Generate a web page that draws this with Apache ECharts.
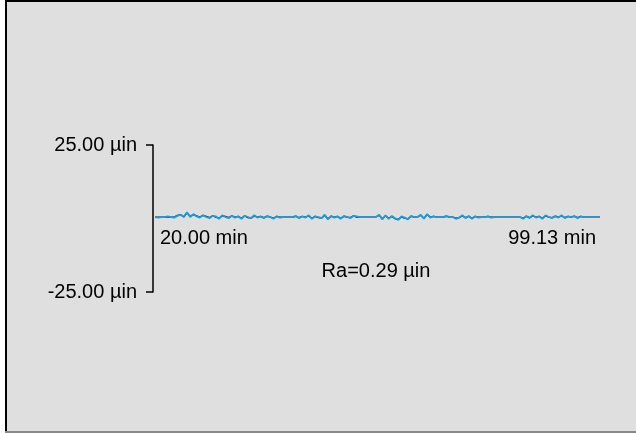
<!DOCTYPE html>
<html><head><meta charset="utf-8">
<script src="https://cdn.jsdelivr.net/npm/echarts@6/dist/echarts.min.js"></script>
<style>html,body{margin:0;padding:0;background:#fff}#c{width:636px;height:433px}</style>
</head><body><div id="c"></div>
<script>
const yTicks = [-25, 25];
const yUnit = 'µin';
const xStartLabel = '20.00 min';
const xEndLabel = '99.13 min';
const raLabel = 'Ra=0.29 µin';
const profileBlue = [0.5,0.3,0.5,0.5,0.7,0.5,0.3,0.9,1.3,0.7,2.1,0.5,1.5,0.7,0.3,1.1,0.5,0.1,0.9,0.7,-0.1,1.1,0.5,0.1,0.9,0.3,0.7,-0.1,0.9,0.5,0.1,1.1,0.3,0.7,0.1,0.9,0.5,-0.1,0.7,0.3,0.5,0.5,0.5,0.5,0.9,0.1,0.7,0.3,1.1,-0.1,0.7,0.5,0.1,1.3,-0.3,0.9,0.3,0.7,-0.1,0.9,0.5,0.1,0.9,0.7,0.5,0.5,0.5,0.5,0.5,0.5,1.3,-0.3,1.1,-0.1,0.9,0.1,-0.5,0.7,0.3,-0.3,0.9,0.5,0.5,1.3,-0.1,1.5,0.3,0.7,0.5,0.5,0.5,0.9,0.5,0.5,-0.1,0.3,1.1,0.1,0.9,-0.1,0.7,0.3,0.5,0.5,0.7,0.3,0.5,0.5,0.5,0.5,0.5,0.5,0.5,0.5,0.5,-0.1,0.9,0.1,1.1,0.3,0.7,-0.1,1.1,0.5,0.1,0.9,0.3,1.1,0.1,0.7,0.5,0.9,0.1,0.7,0.5,0.5,0.5,0.5,0.5,0.5];
const profileBlack = [0.5,0.5,0.5,0.5,0.5,0.5,0.5,1.1,1.3,0.5,1.9,0.7,1.3,0.9,0.5,1.1,0.7,0.3,0.9,0.5,0.1,0.9,0.7,0.3,0.9,0.5,0.7,0.1,0.9,0.3,0.1,0.9,0.5,0.7,0.3,0.7,0.5,0.1,0.7,0.5,0.5,0.5,0.5,0.5,0.7,0.3,0.7,0.5,0.9,0.1,0.7,0.3,0.1,1.1,-0.1,0.7,0.5,0.7,0.1,0.7,0.5,0.3,0.9,0.5,0.5,0.5,0.5,0.5,0.5,0.5,1.1,-0.1,0.9,0.1,0.7,-0.1,-0.3,0.5,0.1,-0.1,0.7,0.5,0.5,1.1,0.1,1.3,0.5,0.7,0.5,0.5,0.5,0.7,0.5,0.5,0.1,0.3,0.9,0.3,0.7,0.1,0.7,0.5,0.5,0.5,0.7,0.5,0.5,0.5,0.5,0.5,0.5,0.5,0.5,0.5,0.5,0.1,0.7,0.3,0.9,0.5,0.7,0.1,0.9,0.5,0.3,0.7,0.5,0.9,0.3,0.7,0.5,0.7,0.3,0.7,0.5,0.5,0.5,0.5,0.5,0.5];

const FONT = 'Liberation Sans';
const chart = echarts.init(document.getElementById('c'), null, {renderer:'canvas'});
chart.setOption({
  animation: false,
  backgroundColor: '#ffffff',
  graphic: [
    {type:'rect', shape:{x:5, y:0, width:631, height:433}, style:{fill:'#dfdfdf'}, z:-10},
    {type:'line', shape:{x1:5, y1:1, x2:636, y2:1}, style:{stroke:'#000', lineWidth:2}, z:-5},
    {type:'line', shape:{x1:6, y1:0, x2:6, y2:433}, style:{stroke:'#000', lineWidth:2}, z:-5},
    {type:'line', shape:{x1:5, y1:432, x2:636, y2:432}, style:{stroke:'#888', lineWidth:2}, z:-5},
    {type:'text', left:160, top:228, style:{text:xStartLabel, font:'20px "'+FONT+'"', fill:'#000'}},
    {type:'text', right:40, top:228, style:{text:xEndLabel, font:'20px "'+FONT+'"', fill:'#000'}},
    {type:'text', x:376, y:271, style:{text:raLabel, font:'20px "'+FONT+'"', fill:'#000', align:'center', verticalAlign:'middle'}}
  ],
  grid: {left:155, right:36, top:145, bottom:141, containLabel:false},
  xAxis: {type:'category', boundaryGap:false, show:false},
  yAxis: {
    type:'value', min:-25, max:25, offset:2,
    splitLine:{show:false},
    axisLine:{show:true, lineStyle:{color:'#000', width:1.5}},
    axisTick:{show:true, customValues:yTicks, length:7, lineStyle:{color:'#000', width:1.5}},
    axisLabel:{show:true, customValues:yTicks, margin:16, color:'#000', fontSize:20, fontFamily:FONT,
      formatter: v => v.toFixed(2) + ' ' + yUnit}
  },
  series: [
    {type:'line', data:profileBlack, symbol:'none', lineStyle:{color:'#111', width:1.3}, z:2},
    {type:'line', data:profileBlue, symbol:'none', lineStyle:{color:'#1b9de0', width:1.8}, z:3}
  ]
});
</script></body></html>
